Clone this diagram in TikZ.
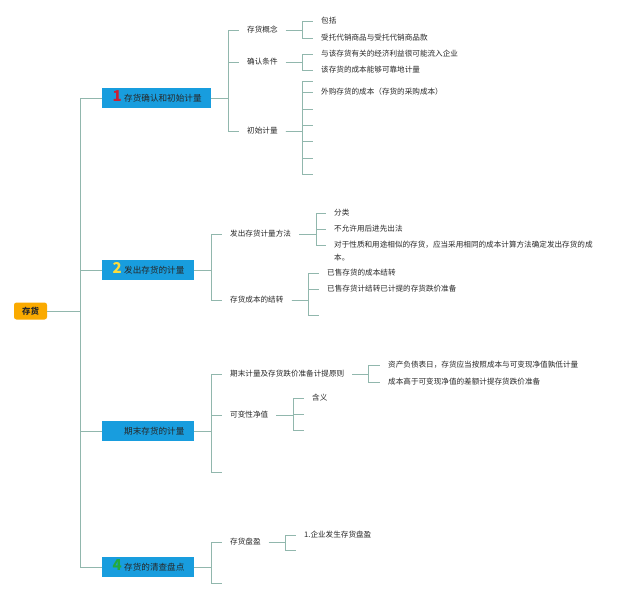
\documentclass[tikz,border=0pt]{standalone}
\usepackage{fontspec}
\setmainfont{Noto Sans CJK SC}
\definecolor{conncol}{RGB}{145,183,173}
\definecolor{boxblue}{RGB}{24,157,222}
\definecolor{rootorange}{RGB}{250,170,0}
\definecolor{txtcol}{RGB}{40,40,40}
\definecolor{numred}{RGB}{205,30,50}
\definecolor{numyellow}{RGB}{250,220,60}
\definecolor{numgreen}{RGB}{35,170,60}
\newcommand\bignum[2]{\makebox[14pt][c]{\smash{\color{#1}\fontsize{15}{15}\selectfont\bfseries #2}}}
\begin{document}
\begin{tikzpicture}[x=1pt,y=-1pt,
  conn/.style={draw=conncol, line width=0.9pt},
  rootbox/.style={fill=rootorange, rounded corners=2.5pt, minimum width=33pt, minimum height=17pt, inner sep=0pt, font=\fontsize{8.5}{10}\selectfont\bfseries, text=txtcol},
  lvlone/.style={fill=boxblue, minimum height=20pt, inner xsep=8pt, inner ysep=0pt, anchor=west, align=left, font=\fontsize{8.6}{10}\selectfont, text=black!85},
  lbl/.style={anchor=west, inner xsep=8pt, inner ysep=2pt, font=\fontsize{7.6}{13}\selectfont, text=txtcol}]
\fill[white] (0,0) rectangle (640,597);
\useasboundingbox (0,0) rectangle (640,597);

% root
\node[rootbox] (root) at (30.5,311) {存货};

% level 1
\node[lvlone, text width=93pt] (b1) at (102,98) {\bignum{numred}{1}存货确认和初始计量};
\node[lvlone, text width=76pt] (b2) at (102,270) {\bignum{numyellow}{2}发出存货的计量};
\node[lvlone, text width=76pt] (b3) at (102,431) {\bignum{boxblue}{\phantom{3}}期末存货的计量};
\node[lvlone, text width=76pt] (b4) at (102,567) {\bignum{numgreen}{4}存货的清查盘点};
\foreach \b in {b1,b2,b3,b4} \draw[conn] (root.east) -- ++(33,0) |- (\b.west);

% ---- branch 1
\node[lbl] (c1) at (239,30) {存货概念};
\node[lbl] (c2) at (239,62) {确认条件};
\node[lbl] (c3) at (239,131) {初始计量};
\foreach \c in {c1,c2,c3} \draw[conn] (b1.east) -- ++(17,0) |- (\c.west);

\node[lbl] (d1) at (313,21) {包括};
\node[lbl] (d2) at (313,38) {受托代销商品与受托代销商品款};
\foreach \c in {d1,d2} \draw[conn] (c1.east) -- ++(17,0) |- (\c.west);

\node[lbl] (e1) at (313,54) {与该存货有关的经济利益很可能流入企业};
\node[lbl] (e2) at (313,70) {该存货的成本能够可靠地计量};
\foreach \c in {e1,e2} \draw[conn] (c2.east) -- ++(17,0) |- (\c.west);

\coordinate (i1) at (313,81);
\node[lbl] (i2) at (313,92) {外购存货的成本（存货的采购成本）};
\coordinate (i3) at (313,109);
\coordinate (i4) at (313,125);
\coordinate (i5) at (313,141);
\coordinate (i6) at (313,158);
\coordinate (i7) at (313,174);
\foreach \c in {i1,i2.west,i3,i4,i5,i6,i7} \draw[conn] (c3.east) -- ++(17,0) |- (\c);

% ---- branch 2
\node[lbl] (f1) at (222,234) {发出存货计量方法};
\node[lbl] (f2) at (222,300) {存货成本的结转};
\foreach \c in {f1,f2} \draw[conn] (b2.east) -- ++(17,0) |- (\c.west);

\node[lbl] (g1) at (326,213) {分类};
\node[lbl] (g2) at (326,229) {不允许用后进先出法};
\node[lbl, align=left] (g3) at (326,251.5) {对于性质和用途相似的存货，应当采用相同的成本计算方法确定发出存货的成\\本。};
\draw[conn] (f1.east) -- ++(17,0) |- (g1.west);
\draw[conn] (f1.east) -- ++(17,0) |- (g2.west);
\draw[conn] (f1.east) -- ++(17,0) |- ([yshift=6.5pt]g3.west);

\node[lbl] (h1) at (319,273) {已售存货的成本结转};
\node[lbl] (h2) at (319,289) {已售存货计结转已计提的存货跌价准备};
\coordinate (h3) at (319,315);
\foreach \c in {h1.west,h2.west,h3} \draw[conn] (f2.east) -- ++(17,0) |- (\c);

% ---- branch 3
\node[lbl] (k1) at (222,374) {期末计量及存货跌价准备计提原则};
\node[lbl] (k2) at (222,415) {可变性净值};
\coordinate (k3) at (222,472);
\foreach \c in {k1.west,k2.west,k3} \draw[conn] (b3.east) -- ++(17,0) |- (\c);

\node[lbl] (m1) at (380,365) {资产负债表日，存货应当按照成本与可变现净值孰低计量};
\node[lbl] (m2) at (380,382) {成本高于可变现净值的差额计提存货跌价准备};
\foreach \c in {m1,m2} \draw[conn] (k1.east) -- ++(16,0) |- (\c.west);

\node[lbl] (n1) at (304,398) {含义};
\coordinate (n2) at (304,414);
\coordinate (n3) at (304,430);
\foreach \c in {n1.west,n2,n3} \draw[conn] (k2.east) -- ++(17,0) |- (\c);

% ---- branch 4
\node[lbl] (p1) at (222,542) {存货盘盈};
\coordinate (p2) at (222,583);
\foreach \c in {p1.west,p2} \draw[conn] (b4.east) -- ++(17,0) |- (\c);

\node[lbl] (q1) at (296,535) {{\rmfamily 1.}企业发生存货盘盈};
\coordinate (q2) at (296,550);
\foreach \c in {q1.west,q2} \draw[conn] (p1.east) -- ++(17,0) |- (\c);
\end{tikzpicture}
\end{document}
